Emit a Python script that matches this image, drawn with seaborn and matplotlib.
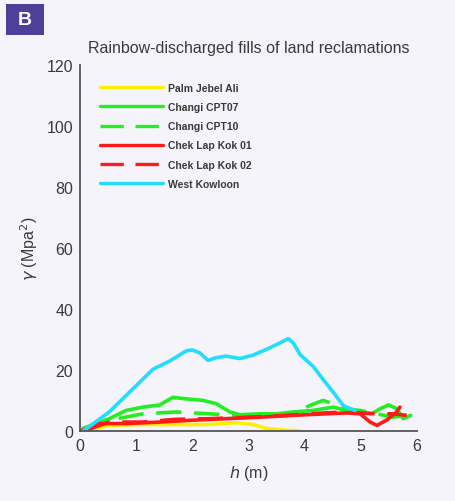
import matplotlib
matplotlib.use("Agg")
import matplotlib.pyplot as plt
import matplotlib.patches as mpatches
import numpy as np
import pandas as pd
import seaborn as sns

# Series data: h (m) and gamma (Mpa^2)
palm_h = [0.1, 0.52, 1.12, 1.71, 2.3, 2.77, 3.08, 3.32, 3.68, 3.92]
palm_g = [0.3, 1.9, 2.2, 2.2, 2.2, 2.8, 2.2, 0.9, 0.3, 0.1]

cpt07_h = [0.05, 0.52, 0.82, 1.12, 1.42, 1.65, 1.89, 2.19, 2.43, 2.67, 2.85, 3.2, 3.5,
           3.8, 4.15, 4.51, 4.75, 4.99, 5.2, 5.35, 5.5, 5.64, 5.76, 5.89]
cpt07_g = [0.9, 4.1, 6.8, 7.9, 8.6, 11.1, 10.6, 10.1, 9.0, 6.3, 5.4, 5.7, 5.7,
           6.3, 6.8, 7.9, 6.8, 6.3, 5.7, 7.4, 8.6, 7.4, 4.1, 5.2]

cpt10_h = [0.05, 0.52, 1.12, 1.71, 2.3, 2.77, 3.2, 3.8, 4.09, 4.33, 4.51, 4.69, 4.99,
           5.29, 5.58, 5.82]
cpt10_g = [0.3, 3.6, 5.7, 6.3, 5.7, 5.2, 5.2, 5.7, 8.4, 10.1, 9.0, 7.4, 6.8,
           5.7, 4.6, 5.2]

clk01_h = [0.0, 0.35, 0.82, 1.42, 2.0, 2.6, 3.2, 3.8, 4.39, 4.75, 4.99, 5.17, 5.29,
           5.46, 5.64, 5.7]
clk01_g = [0.0, 2.5, 2.5, 3.0, 3.6, 4.1, 4.6, 5.2, 5.7, 6.0, 5.7, 3.0, 1.9,
           3.6, 6.3, 7.9]

clk02_h = [0.1, 0.52, 1.12, 1.71, 2.3, 2.9, 3.5, 4.09, 4.69, 5.29, 5.58, 5.82]
clk02_g = [0.3, 3.0, 3.0, 3.9, 4.1, 4.5, 5.0, 5.7, 6.3, 5.7, 5.7, 5.2]

wk_h = [0.05, 0.52, 0.82, 1.3, 1.6, 1.89, 2.0, 2.13, 2.28, 2.43, 2.6, 2.85, 3.08,
        3.32, 3.56, 3.71, 3.8, 3.92, 4.15, 4.33, 4.51, 4.69, 4.81, 4.9]
wk_g = [0.0, 6.3, 11.7, 20.3, 23.0, 26.3, 26.6, 25.7, 23.2, 24.1, 24.6, 23.8, 24.9,
        26.8, 28.9, 30.3, 28.9, 25.1, 21.3, 17.0, 12.8, 8.4, 7.4, 6.8]

series_names = ["Palm Jebel Ali", "Changi CPT07", "Changi CPT10",
                "Chek Lap Kok 01", "Chek Lap Kok 02", "West Kowloon"]
series_h = [palm_h, cpt07_h, cpt10_h, clk01_h, clk02_h, wk_h]
series_g = [palm_g, cpt07_g, cpt10_g, clk01_g, clk02_g, wk_g]
series_colors = ["#ffee00", "#22ee22", "#22ee22", "#ff1a1a", "#ff1a1a", "#22ddff"]
series_dashed = [False, False, True, False, True, False]

x_ticks = [0, 1, 2, 3, 4, 5, 6]
y_ticks = [0, 20, 40, 60, 80, 100, 120]

bg = "#f4f4fa"
text_col = "#3a3a3a"
sns.set_theme(style="white")
plt.rcParams["font.family"] = ["Liberation Sans", "DejaVu Sans"]

fig = plt.figure(figsize=(4.55, 5.02), dpi=100, facecolor=bg)
ax = fig.add_axes([0.176, 0.139, 0.740, 0.730], facecolor=bg)

frames = []
for name, h, g in zip(series_names, series_h, series_g):
    frames.append(pd.DataFrame({"h": h, "gamma": g, "site": name}))
df = pd.concat(frames, ignore_index=True)

handles = []
for name, col, dashed in zip(series_names, series_colors, series_dashed):
    sub = df[df["site"] == name]
    ls = (0, (7, 3.5)) if dashed else "-"
    sns.lineplot(data=sub, x="h", y="gamma", ax=ax, color=col, linewidth=2.6,
                 linestyle=ls, sort=False, estimator=None, legend=False)
    handles.append(plt.Line2D([], [], color=col, linewidth=2.4, linestyle=ls, label=name))

ax.set_xlim(0, 6)
ax.set_ylim(0, 120)
ax.set_xticks(x_ticks)
ax.set_yticks(y_ticks)
ax.tick_params(direction="in", length=3, width=1, colors="#555555",
               labelcolor=text_col, labelsize=11.5, pad=5)
for s in ["top", "right"]:
    ax.spines[s].set_visible(False)
for s in ["left", "bottom"]:
    ax.spines[s].set_color("#555555")
    ax.spines[s].set_linewidth(1.3)

ax.set_xlabel(r"$h$ (m)", fontsize=11.5, color=text_col, labelpad=7)
ax.set_ylabel(r"$\gamma$ (Mpa$^2$)", fontsize=11.5, color=text_col, labelpad=5)
ax.set_title("Rainbow-discharged fills of land reclamations", fontsize=11.5,
             color=text_col, pad=9)

leg = ax.legend(handles=handles, loc="upper left", bbox_to_anchor=(0.042, 0.968),
                frameon=False, fontsize=7.5, handlelength=6.0, handletextpad=0.5,
                labelspacing=0.885, borderaxespad=0.2)
for t in leg.get_texts():
    t.set_fontweight("bold")
    t.set_color(text_col)

# panel label
fig.patches.append(mpatches.Rectangle((6 / 455, 1 - 36 / 502), 38 / 455, 31 / 502,
                                      transform=fig.transFigure, facecolor="#4f3f9a",
                                      edgecolor="none"))
fig.text(25 / 455, 1 - 20.5 / 502, "B", color="white", fontsize=14, fontweight="bold",
         ha="center", va="center")

fig.savefig("out.png", dpi=100, facecolor=bg)
